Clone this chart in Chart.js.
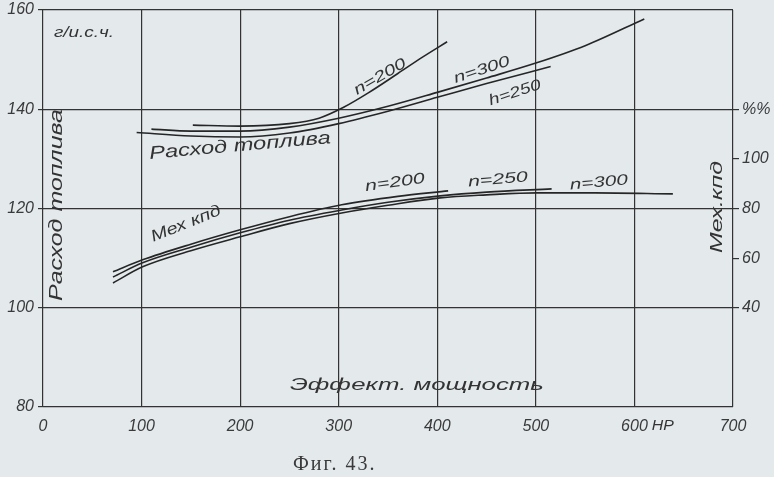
<!DOCTYPE html>
<html>
<head>
<meta charset="utf-8">
<script src="https://cdn.jsdelivr.net/npm/chart.js@4.4.1/dist/chart.umd.min.js"></script>
<style>
  html, body { margin: 0; padding: 0; background: #e4e9ec; }
  #wrap { width: 774px; height: 477px; }
</style>
</head>
<body>
<div id="wrap"><canvas id="c" width="774" height="477"></canvas></div>
<script>
// Расход топлива, г/и.с.ч. (левая ось)
const fuel200X = [152, 200, 250, 280, 305, 330, 360, 385, 410];
const fuel200Y = [136.8, 136.6, 137.1, 138.2, 140.4, 143.3, 147.2, 150.5, 153.6];
const fuel250X = [95, 150, 200, 250, 300, 350, 400, 450, 515];
const fuel250Y = [135.3, 134.6, 134.4, 135.2, 137.1, 139.6, 142.4, 145.2, 148.6];
const fuel300X = [110, 150, 200, 250, 300, 350, 400, 450, 500, 550, 610];
const fuel300Y = [136.0, 135.6, 135.6, 136.4, 138.2, 140.6, 143.4, 146.3, 149.3, 152.8, 158.2];

// Мех. кпд, % (правая ось)
const mech200X = [71, 101, 150, 200, 250, 303, 360, 411];
const mech200Y = [54.5, 59.3, 65.6, 71.4, 76.7, 81.5, 84.9, 87.1];
const mech250X = [71, 101, 150, 200, 250, 303, 350, 403, 450, 516];
const mech250Y = [52.4, 58.1, 64.4, 70.2, 75.3, 79.4, 82.5, 85.1, 86.6, 87.9];
const mech300X = [71, 101, 150, 200, 250, 303, 350, 403, 450, 501, 560, 639];
const mech300Y = [50.0, 56.5, 63.0, 68.6, 73.9, 78.2, 81.3, 84.3, 85.5, 86.3, 86.3, 85.9];

// подписи осей
const powerTicks = [0, 100, 200, 300, 400, 500, 600, 700];
const fuelTicks = [80, 100, 120, 140, 160];
const mechTicks = { 40: '40', 60: '60', 80: '80', 100: '100', 120: '%%' };

const ink = '#262626';
const tickFont = { family: '"Liberation Sans", sans-serif', style: 'italic', size: 16 };

function pts(xs, ys) {
  return xs.map((x, i) => ({ x: x, y: ys[i] }));
}

function curve(xs, ys, axis) {
  return {
    data: pts(xs, ys),
    yAxisID: axis,
    borderColor: ink,
    borderWidth: 1.6,
    pointRadius: 0,
    fill: false,
    cubicInterpolationMode: 'monotone'
  };
}

// надписи на поле графика (в координатах данных: мощность, левая ось)
const notes = [
  { t: 'г/и.с.ч.', x: 41.6, y: 155.4, size: 14, w: 60, rot: 0 },
  { t: 'Расход топлива', x: 14.2, y: 120.7, size: 19, w: 192, rot: -90 },
  { t: 'Расход топлива', x: 199.8, y: 132.6, size: 18, w: 182, rot: -5 },
  { t: 'n=200', x: 341.8, y: 146.5, size: 15, w: 58, rot: -30 },
  { t: 'n=300', x: 445.2, y: 147.9, size: 15, w: 58, rot: -18 },
  { t: 'h=250', x: 478.7, y: 143.3, size: 15, w: 54, rot: -18 },
  { t: 'Мех кпд', x: 145, y: 116.9, size: 16, w: 74, rot: -22 },
  { t: 'n=200', x: 357, y: 125.2, size: 15, w: 60, rot: -8 },
  { t: 'n=250', x: 461.5, y: 125.8, size: 15, w: 60, rot: -5 },
  { t: 'n=300', x: 563.9, y: 125.2, size: 15, w: 58, rot: -5 },
  { t: 'Мех.кпд', x: 683.6, y: 120.3, size: 17, w: 92, rot: -90 },
  { t: 'Эффект. мощность', x: 379.3, y: 84.3, size: 17, w: 254, rot: 0 },
  { t: 'HP', x: 628.8, y: 76.2, size: 15, w: 22, rot: 0 }
];

const notesPlugin = {
  id: 'notes',
  afterDatasetsDraw(chart) {
    const ctx = chart.ctx;
    const sx = chart.scales.x, sy = chart.scales.y;
    ctx.save();
    ctx.fillStyle = '#333';
    ctx.textAlign = 'center';
    ctx.textBaseline = 'middle';
    notes.forEach(n => {
      ctx.font = 'italic ' + n.size + 'px "Liberation Sans", sans-serif';
      const mw = ctx.measureText(n.t).width;
      ctx.save();
      ctx.translate(sx.getPixelForValue(n.x), sy.getPixelForValue(n.y));
      ctx.rotate(n.rot * Math.PI / 180);
      ctx.scale(n.w / mw, 1);
      ctx.fillText(n.t, 0, 0);
      ctx.restore();
    });
    // подпись рисунка
    ctx.font = '20px "Liberation Serif", serif';
    ctx.letterSpacing = '2px';
    ctx.fillStyle = '#3a3a3a';
    ctx.fillText('Фиг. 43.', sx.getPixelForValue(296), sy.getPixelForValue(68.4));
    ctx.restore();
  }
};

new Chart(document.getElementById('c'), {
  type: 'line',
  data: {
    datasets: [
      curve(fuel200X, fuel200Y, 'y'),
      curve(fuel250X, fuel250Y, 'y'),
      curve(fuel300X, fuel300Y, 'y'),
      curve(mech200X, mech200Y, 'y2'),
      curve(mech250X, mech250Y, 'y2'),
      curve(mech300X, mech300Y, 'y2')
    ]
  },
  options: {
    responsive: false,
    animation: false,
    layout: { padding: { top: 10, left: 0, right: 0, bottom: 0 } },
    plugins: { legend: { display: false }, tooltip: { enabled: false } },
    scales: {
      x: {
        type: 'linear',
        min: 0,
        max: 700,
        afterBuildTicks: s => { s.ticks = powerTicks.map(v => ({ value: v })); },
        afterFit: s => { s.height = 70; },
        border: { display: false },
        grid: { color: '#333', lineWidth: 1.2, drawTicks: false },
        ticks: { padding: 10, color: '#3a3a3a', font: tickFont, maxRotation: 0 }
      },
      y: {
        position: 'left',
        min: 80,
        max: 160,
        afterBuildTicks: s => { s.ticks = fuelTicks.map(v => ({ value: v })); },
        afterFit: s => { s.width = 43; s.paddingTop = 0; s.paddingBottom = 0; },
        border: { display: false },
        grid: { color: '#333', lineWidth: 1.2, tickLength: 5 },
        ticks: { padding: 4, color: '#3a3a3a', font: tickFont }
      },
      y2: {
        position: 'right',
        min: 0,
        max: 160,
        afterBuildTicks: s => {
          s.ticks = Object.keys(mechTicks).map(v => ({ value: Number(v) }));
        },
        afterFit: s => { s.width = 41; s.paddingTop = 0; s.paddingBottom = 0; },
        border: { display: false },
        grid: { drawOnChartArea: false, color: '#333', lineWidth: 1.2, tickLength: 6 },
        ticks: { padding: 3, color: '#3a3a3a', font: tickFont, callback: v => mechTicks[v] }
      }
    }
  },
  plugins: [notesPlugin]
});
</script>
</body>
</html>
